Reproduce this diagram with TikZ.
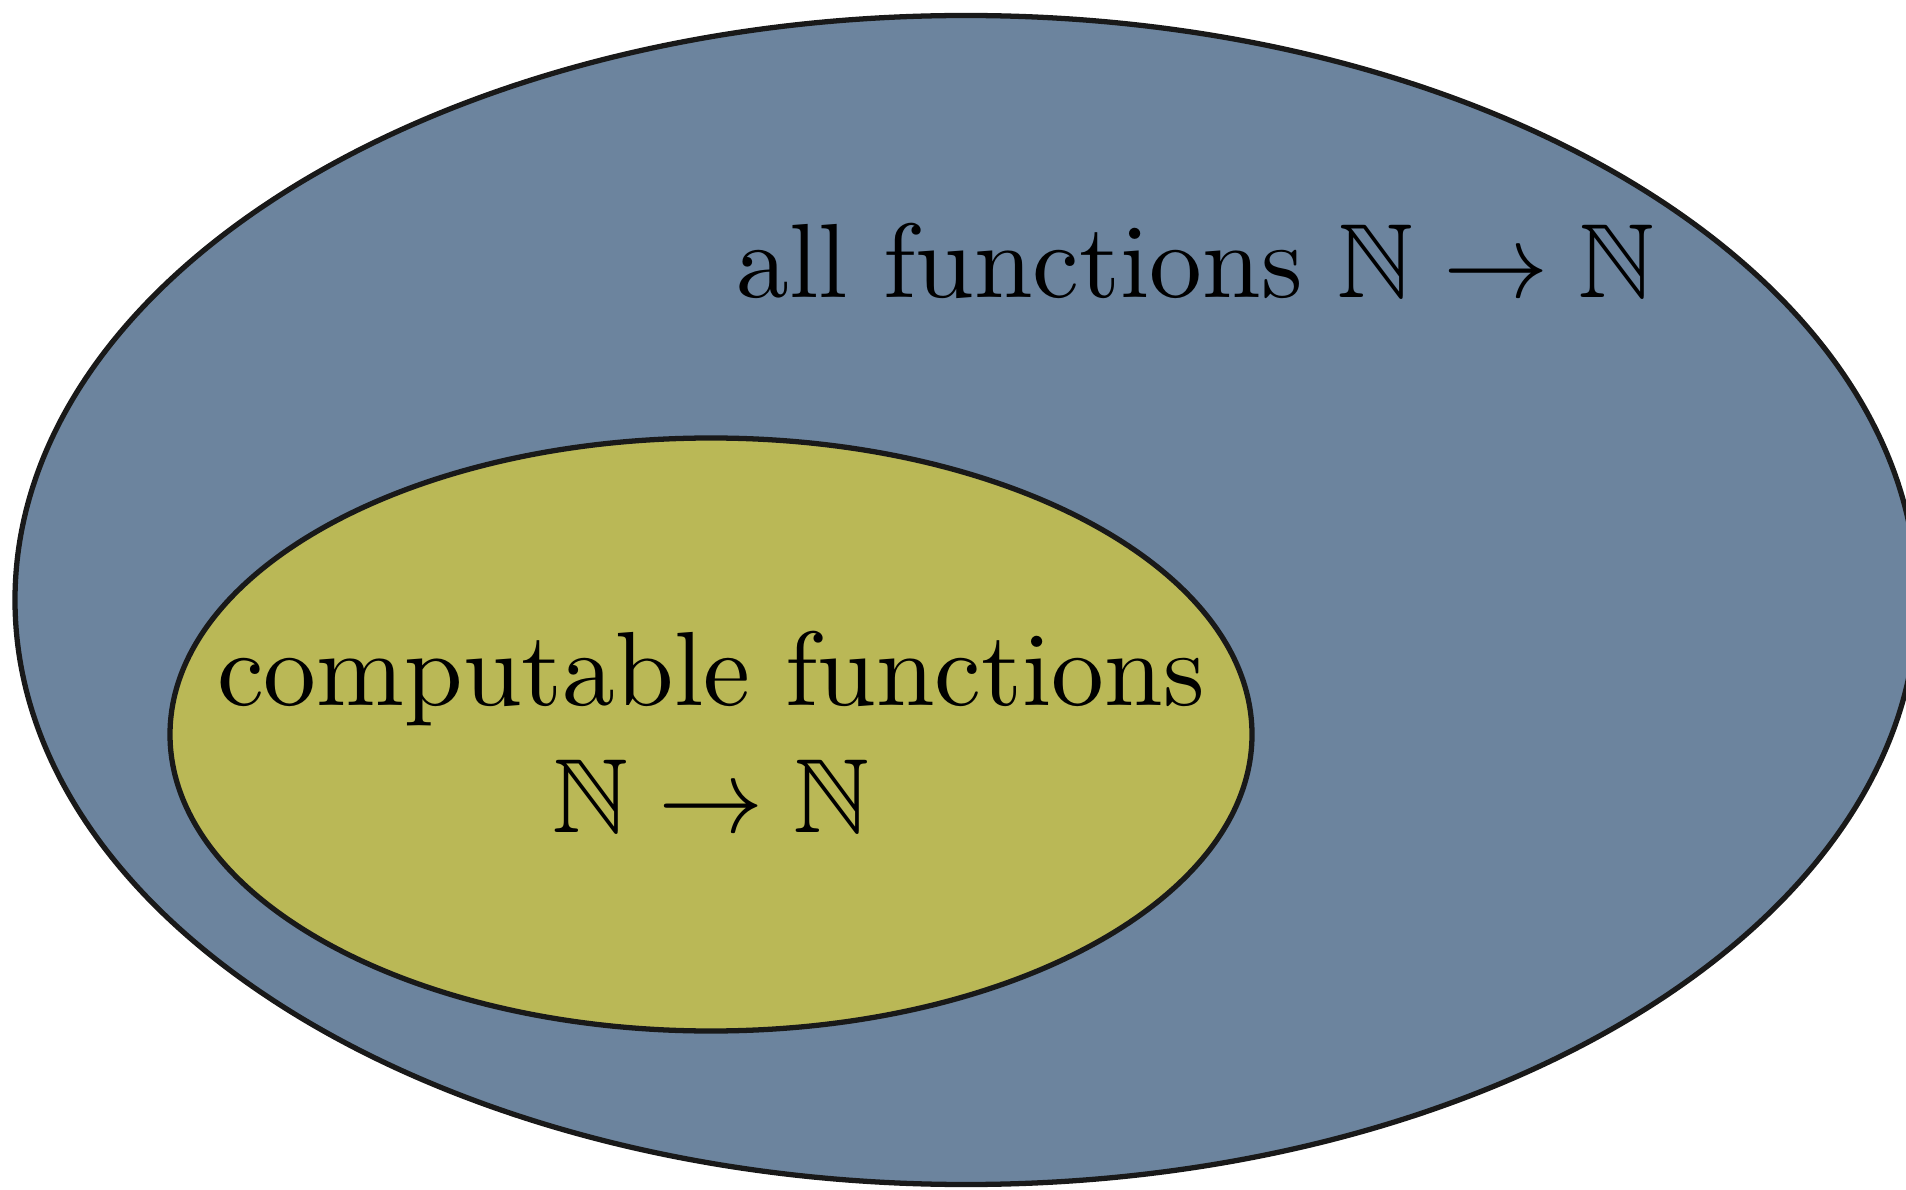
\documentclass[tikz,border=0pt]{standalone}
\usepackage{amssymb}
\definecolor{allblue}{RGB}{108,132,158}
\definecolor{compolive}{RGB}{186,184,86}
\tikzset{
    setline/.style={draw=black!90, line width=1.5pt},
    setlabel/.style={scale=3.0, align=center, inner sep=0pt}
}
\begin{document}
\begin{tikzpicture}
    \useasboundingbox (0,0) rectangle (19.06,11.89);
    \clip (0,0) rectangle (19.06,11.89);
    \filldraw[setline, fill=allblue] (9.66,5.89) ellipse (9.51 and 5.845);
    \filldraw[setline, fill=compolive] (7.11,4.545) ellipse (5.41 and 2.965);
    \node[setlabel, anchor=base] (all) at (11.955,8.91) {all functions $\mathbb{N}\to\mathbb{N}$};
    \node[setlabel, anchor=center] (comp) at (7.11,4.57) {computable functions\\ $\mathbb{N}\to\mathbb{N}$};
\end{tikzpicture}
\end{document}
